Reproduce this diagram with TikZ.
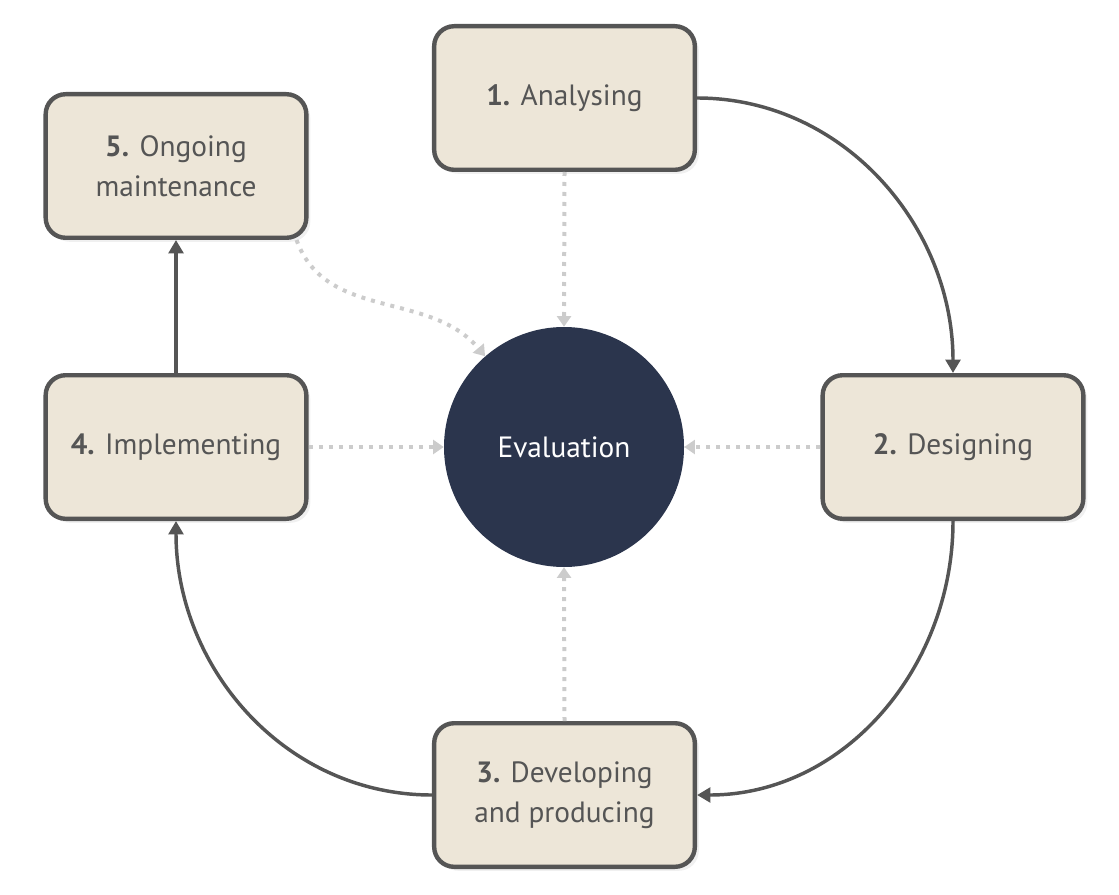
\documentclass[tikz,border=0pt]{standalone}
\usepackage{fontspec}
\setmainfont{PT Sans}
\usetikzlibrary{arrows.meta,shadows}
\definecolor{boxfill}{HTML}{EDE6D8}
\definecolor{boxline}{HTML}{555555}
\definecolor{evalfill}{HTML}{2B354D}
\definecolor{dotgray}{HTML}{CCCCCC}

\begin{document}
\begin{tikzpicture}[x=0.75pt,y=0.75pt,line join=round,
  stage/.style={draw=boxline,line width=3.3pt,fill=boxfill,rounded corners=15pt,
    minimum width=195.5pt,minimum height=107.7pt,inner sep=0pt,align=center,
    text=boxline,font=\fontsize{22}{30}\selectfont,
    drop shadow={opacity=0.12,shadow xshift=3pt,shadow yshift=-3pt}},
  hub/.style={circle,fill=evalfill,minimum size=180pt,inner sep=0pt,
    text=white,font=\fontsize{22}{30}\selectfont},
  flow/.style={draw=boxline,line width=2.6pt,-{Triangle[length=10pt,width=11pt]}},
  probe/.style={draw=dotgray,line width=3pt,dash pattern=on 3pt off 4.5pt,
    -{Triangle[length=8pt,width=10.5pt]}}]
\useasboundingbox (0,0) rectangle (1119,894);

% --- stages and the centre ---
\node[hub] (ev) at (564,447) {Evaluation};
\node[stage] (b1) at (564.5,796) {\textbf{1.} Analysing};
\node[stage] (b2) at (953,447) {\textbf{2.} Designing};
\node[stage] (b3) at (564.5,99) {\textbf{3.} Developing\\and producing};
\node[stage] (b4) at (176,447) {\textbf{4.} Implementing};
\node[stage] (b5) at (176,728) {\textbf{5.} Ongoing\\maintenance};

% --- main cycle ---
\draw[flow] (b1.east) to[out=0,in=90] (b2.north);
\draw[flow] (b2.south) to[out=-90,in=0] (b3.east);
\draw[flow] (b3.west) to[out=180,in=-90] (b4.south);
\draw[flow] (b4.north) -- (b5.south);

% --- feedback into evaluation (dotted) ---
\draw[probe] (b1.south) -- (ev.north);
\draw[probe] (b2.west) -- (ev.east);
\draw[probe] (b3.north) -- (ev.south);
\draw[probe] (b4.east) -- (ev.west);
\draw[probe] ([xshift=-9pt]b5.south east) to[out=-70,in=130] (ev.131);

\end{tikzpicture}
\end{document}
